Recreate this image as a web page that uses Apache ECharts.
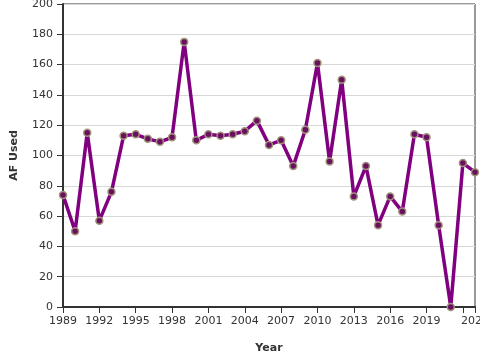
<!DOCTYPE html>
<html>
<head>
<meta charset="utf-8">
<script src="https://cdn.jsdelivr.net/npm/echarts@6/dist/echarts.min.js"></script>
<style>
  html, body { margin: 0; padding: 0; background: #fff; }
  #chart { width: 480px; height: 360px; }
</style>
</head>
<body>
<div id="chart"></div>
<script>
// data
var years = [1989, 1990, 1991, 1992, 1993, 1994, 1995, 1996, 1997, 1998,
  1999, 2000, 2001, 2002, 2003, 2004, 2005, 2006, 2007, 2008,
  2009, 2010, 2011, 2012, 2013, 2014, 2015, 2016, 2017, 2018,
  2019, 2020, 2021, 2022, 2023];
var afUsed = [74, 50, 115, 57, 76, 113, 114, 111, 109, 112,
  175, 110, 114, 113, 114, 116, 123, 107, 110, 93,
  117, 161, 96, 150, 73, 93, 54, 73, 63, 114,
  112, 54, 0, 95, 89];

var points = years.map(function (y, i) { return [y, afUsed[i]]; });

var myChart = echarts.init(document.getElementById('chart'));

var font = 'DejaVu Sans';

myChart.setOption({
  animation: false,
  grid: {
    left: 63, right: 5, top: 4, bottom: 53,
    outerBoundsMode: 'none', containLabel: false,
    show: true, borderColor: '#333', borderWidth: 1
  },
  xAxis: {
    type: 'value',
    min: 1989, max: 2023, interval: 3,
    name: 'Year', nameLocation: 'middle', nameGap: 36,
    nameTextStyle: { fontFamily: font, fontSize: 11, fontWeight: 'bold', color: '#333' },
    axisLine: { lineStyle: { color: '#333', width: 2 } },
    axisTick: { length: 6, lineStyle: { color: '#333' } },
    axisLabel: {
      fontFamily: font, fontSize: 11, color: '#333', margin: 9,
      formatter: function (v) { return v === 2022 ? '' : String(v); }
    },
    splitLine: { show: false }
  },
  yAxis: {
    type: 'value',
    min: 0, max: 200, interval: 20,
    name: 'AF Used', nameLocation: 'middle', nameGap: 43,
    nameTextStyle: { fontFamily: font, fontSize: 11, fontWeight: 'bold', color: '#333' },
    axisLine: { show: true, lineStyle: { color: '#333', width: 2 } },
    axisTick: { show: true, length: 6, lineStyle: { color: '#333' } },
    axisLabel: { fontFamily: font, fontSize: 11, color: '#333', margin: 10 },
    splitLine: { lineStyle: { color: '#d8d8d8' } }
  },
  series: [{
    type: 'line',
    data: points,
    symbol: 'circle',
    symbolSize: 7,
    lineStyle: { color: '#800080', width: 3.5 },
    itemStyle: { color: '#6b1060', borderColor: '#a0957a', borderWidth: 1.5 }
  }]
});
</script>
</body>
</html>
